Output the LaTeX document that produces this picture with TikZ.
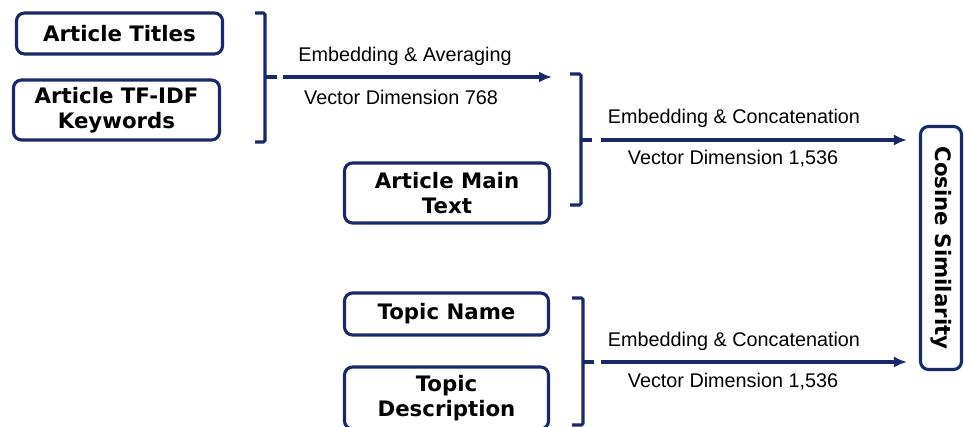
\documentclass[tikz,border=0pt]{standalone}
\usepackage{fontspec}
\setmainfont{Liberation Sans}
\newfontfamily\boxfont{DejaVu Sans}
\usetikzlibrary{arrows.meta}
\definecolor{navy}{RGB}{25,40,105}
\tikzset{
  inbox/.style={draw=navy, line width=3.1pt, rounded corners=8pt, fill=white,
    align=center, inner sep=0pt,
    font=\boxfont\bfseries\fontsize{21.3}{25.5}\selectfont},
  brk/.style={draw=navy, line width=3.1pt, rounded corners=1.5pt},
  flow/.style={draw=navy, line width=3.1pt, -{Latex[length=13pt,width=11pt]}},
  lbl/.style={font=\fontsize{19.8}{22}\selectfont, inner sep=0pt}
}
\begin{document}
\begin{tikzpicture}[x=1pt,y=-1pt]
\useasboundingbox (0,0) rectangle (965,427);
% boxes
\node[inbox, minimum width=206pt, minimum height=41pt] (titles) at (119.5,33.5) {Article Titles};
\node[inbox, minimum width=206pt, minimum height=60pt] (tfidf) at (116.5,110) {Article TF-IDF\\Keywords};
\node[inbox, minimum width=205pt, minimum height=60pt] (main) at (447,193) {Article Main\\Text};
\node[inbox, minimum width=204pt, minimum height=42pt] (tname) at (446.5,314) {Topic Name};
\node[inbox, minimum width=204pt, minimum height=62pt] (tdesc) at (446.5,398) {Topic\\Description};
\node[inbox, rotate=-90, minimum width=243pt, minimum height=41pt] (cos) at (941,248) {Cosine Similarity};
% brackets
\draw[brk] (255,13) -- (265,13) -- (265,142) -- (255,142);
\coordinate (b1) at (265,77);
\draw[brk] (b1) -- (277,77);
\coordinate (a1s) at (283,77);
\coordinate (a1e) at (552,77);
\draw[flow] (a1s) -- (a1e);
\draw[brk] (570,74) -- (581,74) -- (581,205) -- (570,205);
\coordinate (b2) at (581,140);
\draw[brk] (b2) -- (592,140);
\coordinate (a2s) at (601,140);
\draw[flow, shorten >=12pt] (a2s) -- (a2s -| cos.south);
\draw[brk] (572,298) -- (583,298) -- (583,425) -- (572,425);
\coordinate (b3) at (583,362);
\draw[brk] (b3) -- (594,362);
\coordinate (a3s) at (601,362);
\draw[flow, shorten >=12pt] (a3s) -- (a3s -| cos.south);
% labels
\node[lbl] (l1a) at (405,56) {Embedding \& Averaging};
\node[lbl] (l1b) at (401,97) {Vector Dimension 768};
\node[lbl] (l2a) at (734,118) {Embedding \& Concatenation};
\node[lbl] (l2b) at (733,159) {Vector Dimension 1,536};
\node[lbl] (l3a) at (734,341) {Embedding \& Concatenation};
\node[lbl] (l3b) at (733,382) {Vector Dimension 1,536};
\end{tikzpicture}
\end{document}
